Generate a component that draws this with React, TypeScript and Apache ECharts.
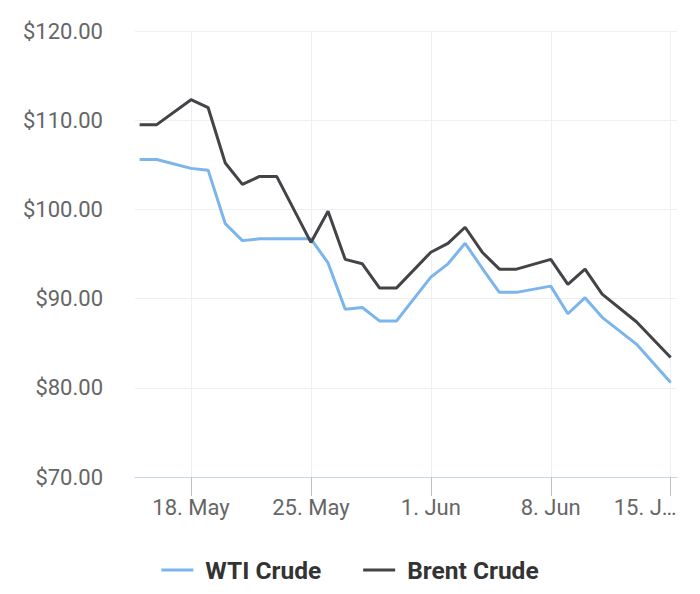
import { useEffect, useRef } from 'react';
import * as echarts from 'echarts';

// trading days (May/June)
const dates = [
  '05-15', '05-16', '05-18', '05-19', '05-20', '05-21', '05-22', '05-23',
  '05-25', '05-26', '05-27', '05-28', '05-29', '05-30',
  '06-01', '06-02', '06-03', '06-04', '06-05', '06-06',
  '06-08', '06-09', '06-10', '06-11', '06-13', '06-15',
];

const wti = [
  105.6, 105.6, 104.6, 104.4, 98.4, 96.5, 96.7, 96.7,
  96.7, 94.0, 88.8, 89.0, 87.5, 87.5,
  92.4, 93.9, 96.2, 93.4, 90.7, 90.7,
  91.4, 88.3, 90.1, 87.9, 84.9, 80.6,
];

const brent = [
  109.5, 109.5, 112.3, 111.4, 105.2, 102.8, 103.7, 103.7,
  96.3, 99.8, 94.4, 93.9, 91.2, 91.2,
  95.2, 96.2, 98.0, 95.2, 93.3, 93.3,
  94.4, 91.6, 93.3, 90.5, 87.4, 83.4,
];

const tickDates = ['05-18', '05-25', '06-01', '06-08', '06-15'];
const tickLabels = ['18. May', '25. May', '1. Jun', '8. Jun', '15. J…'];

// day number counted from 1 May
const dayNo = (md: string) => {
  const [m, d] = md.split('-').map(Number);
  return (m === 5 ? 0 : 31) + d - 1;
};

export default function App() {
  const chartRef = useRef<HTMLDivElement>(null);

  useEffect(() => {
    if (!chartRef.current) return;
    const chart = echarts.init(chartRef.current, null, { renderer: 'svg' });

    const tickValues = tickDates.map(dayNo);
    const lastTick = tickValues[tickValues.length - 1];

    const option = {
      animation: false,
      backgroundColor: '#fff',
      grid: { left: 135, right: 23, top: 31, bottom: 117, outerBoundsMode: 'none' },
      legend: {
        data: ['WTI Crude', 'Brent Crude'],
        left: 'center',
        top: 551,
        icon: 'rect',
        itemWidth: 32,
        itemHeight: 3,
        itemGap: 42,
        textStyle: {
          fontFamily: 'Roboto',
          fontSize: 24.5,
          fontWeight: 'bold',
          color: '#333',
          lineHeight: 28,
          padding: [0, 0, 0, 7],
        },
      },
      xAxis: {
        type: 'value',
        min: dayNo('05-15') - 0.27,
        max: dayNo('06-15') + 0.37,
        axisLine: { onZero: false, lineStyle: { color: '#ccd6eb', width: 1 } },
        axisTick: {
          show: true,
          length: 19,
          customValues: tickValues,
          lineStyle: { color: '#c0c0c0' },
        },
        axisLabel: {
          customValues: tickValues,
          margin: 19,
          fontFamily: 'Roboto',
          fontSize: 22,
          color: '#666',
          hideOverlap: false,
          formatter: (v: number) => {
            const i = tickValues.indexOf(v);
            if (i < 0) return '';
            return v === lastTick ? '{last|' + tickLabels[i] + '}' : tickLabels[i];
          },
          rich: {
            last: {
              fontFamily: 'Roboto',
              fontSize: 22,
              color: '#666',
              padding: [0, 51, 0, 0],
            },
          },
        },
        splitLine: { show: true, lineStyle: { color: '#efefef', width: 1 } },
      },
      yAxis: {
        type: 'value',
        min: 70,
        max: 120,
        interval: 10,
        axisLine: { show: false },
        axisTick: { show: false },
        axisLabel: {
          margin: 32,
          fontFamily: 'Roboto',
          fontSize: 22,
          color: '#666',
          formatter: (v: number) => '$' + v.toFixed(2),
        },
        splitLine: { lineStyle: { color: '#efefef', width: 1 } },
      },
      series: [
        {
          name: 'WTI Crude',
          type: 'line',
          data: dates.map((d, i) => [dayNo(d), wti[i]]),
          showSymbol: false,
          color: '#7cb5ec',
          lineStyle: { width: 3, color: '#7cb5ec' },
          z: 2,
        },
        {
          name: 'Brent Crude',
          type: 'line',
          data: dates.map((d, i) => [dayNo(d), brent[i]]),
          showSymbol: false,
          color: '#434348',
          lineStyle: { width: 3, color: '#434348' },
          z: 3,
        },
      ],
    };

    chart.setOption(option);

    return () => {
      chart.dispose();
    };
  }, []);

  return (
    <div
      ref={chartRef}
      style={{ position: 'absolute', left: 0, top: 0, width: 700, height: 594 }}
    />
  );
}
